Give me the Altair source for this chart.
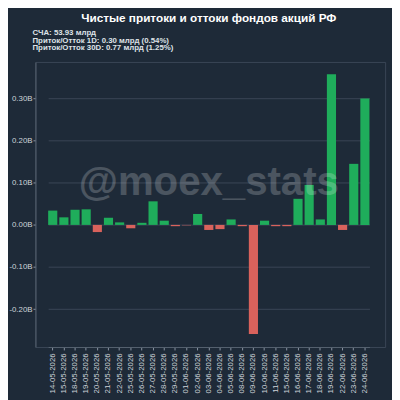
import altair as alt
import pandas as pd

dates = ["14-05-2026", "15-05-2026", "18-05-2026", "19-05-2026", "20-05-2026",
         "21-05-2026", "22-05-2026", "25-05-2026", "26-05-2026", "27-05-2026",
         "28-05-2026", "29-05-2026", "01-06-2026", "02-06-2026", "03-06-2026",
         "04-06-2026", "05-06-2026", "08-06-2026", "09-06-2026", "10-06-2026",
         "11-06-2026", "15-06-2026", "16-06-2026", "17-06-2026", "18-06-2026",
         "19-06-2026", "22-06-2026", "23-06-2026", "24-06-2026"]
flows = [0.034, 0.018, 0.036, 0.037, -0.017,
         0.017, 0.006, -0.008, 0.005, 0.056,
         0.010, -0.003, -0.001, 0.026, -0.012,
         -0.010, 0.013, -0.003, -0.259, 0.010,
         -0.003, -0.003, 0.062, 0.095, 0.013,
         0.358, -0.012, 0.145, 0.300]

title_text = "Чистые притоки и оттоки фондов акций РФ"
info_lines = ["СЧА: 53.93 млрд",
              "Приток/Отток 1D: 0.30 млрд (0.54%)",
              "Приток/Отток 30D: 0.77 млрд (1.25%)"]
watermark = "@moex_stats"
y_ticks = [-0.2, -0.1, 0.0, 0.1, 0.2, 0.3]

BG = "#1e2a38"
FONT = "Liberation Sans"

df = pd.DataFrame({"date": dates, "flow": flows})
df["sign"] = ["pos" if v >= 0 else "neg" for v in flows]

x = alt.X("date:N", sort=dates, title=None,
          scale=alt.Scale(paddingInner=0.18, paddingOuter=0, range=[13, 341]),
          axis=alt.Axis(labelAngle=-90, labelFontSize=8, labelColor="#cfd4da",
                        labelFont=FONT, tickColor="#8a95a3", tickSize=3,
                        domainColor="#55616f", labelPadding=3))
y = alt.Y("flow:Q", title=None,
          scale=alt.Scale(domain=[-0.29, 0.387], nice=False, zero=False),
          axis=alt.Axis(values=y_ticks,
                        labelExpr="(datum.value < 0 ? '-' : '') + format(abs(datum.value), '.2f') + 'B'",
                        labelFontSize=8, labelColor="#cfd4da", labelFont=FONT,
                        tickColor="#8a95a3", tickSize=2.5, domainColor="#55616f",
                        grid=True, gridColor="#3a4656", gridWidth=1, labelPadding=1))

bars = alt.Chart(df).mark_bar().encode(
    x=x, y=y, y2=alt.datum(0),
    color=alt.Color("sign:N", scale=alt.Scale(domain=["pos", "neg"],
                                              range=["#1fad5b", "#d9625c"]),
                    legend=None),
)

wm = alt.Chart(pd.DataFrame({"t": [watermark]})).mark_text(
    font=FONT, fontSize=41, fontWeight="bold", color="#ffffff", opacity=0.2,
    align="center", baseline="middle"
).encode(text="t:N", x=alt.value(177), y=alt.value(124))

title = alt.Chart(pd.DataFrame({"t": [title_text]})).mark_text(
    font=FONT, fontSize=12, fontWeight="bold", color="#ffffff",
    align="center", baseline="middle"
).encode(text="t:N", x=alt.value(177), y=alt.value(-45))

info_df = pd.DataFrame({"t": info_lines, "i": [0, 1, 2]})
info = alt.Chart(info_df).mark_text(
    font=FONT, fontSize=8, fontWeight="bold", color="#dfe3e8",
    align="left", baseline="middle"
).encode(text="t:N", x=alt.value(-3),
         y=alt.Y("i:O", scale=alt.Scale(domain=[0, 1, 2], range=[-33.5, -10]), axis=None))

chart = alt.layer(bars, wm, title, info).resolve_scale(y="independent").properties(
    width=357, height=291,
    autosize=alt.AutoSizeParams(type="none"),
    padding={"left": 28, "top": 51, "right": 7, "bottom": 50},
    background=BG,
).configure_view(stroke="#3a4656", strokeWidth=1)

chart.save("out.html", embed_options={"renderer": "svg", "actions": False})
